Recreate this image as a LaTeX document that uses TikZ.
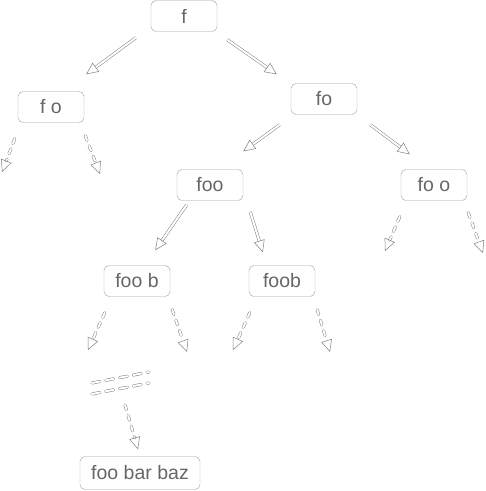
\documentclass[tikz,border=0pt]{standalone}
\usepackage{fontspec}
\setmainfont{Liberation Sans}
\usetikzlibrary{arrows.meta}
\begin{document}
\begin{tikzpicture}[x=1pt,y=-1pt,
  box/.style={draw=gray!75, rounded corners=5pt, minimum width=66pt, minimum height=31pt, inner sep=0pt, font=\fontsize{19.5}{19.5}\selectfont, text=gray!80!black},
  arr/.style={draw=gray, double=white, double distance=2pt, line width=0.5pt, -{Triangle[open,length=12pt,width=11pt]}},
  darr/.style={arr, line cap=round, dash pattern=on 5pt off 6pt},
  dline/.style={draw=gray, double=white, double distance=2pt, line width=0.5pt, line cap=round, dash pattern=on 8pt off 6pt},
]
\useasboundingbox (0,0) rectangle (486,491);
\node[box] (f) at (184,16) {f};
\node[box] (fo1) at (51,107) {f o};
\node[box] (fo) at (324,99) {fo};
\node[box] (foo) at (210,185) {foo};
\node[box] (foo2) at (434,185) {fo o};
\node[box] (foob1) at (137,281) {foo b};
\node[box] (foob2) at (282,281) {foob};
\node[box, minimum width=120pt, minimum height=33pt] (fbb) at (140,473) {foo bar baz};

% solid connectors
\draw[arr] ([xshift=-15pt,yshift=-6pt]f.south west) -- ([xshift=2pt,yshift=17pt]fo1.north east);
\draw[arr] ([xshift=10pt,yshift=-8pt]f.south east) -- ([xshift=-14pt,yshift=9pt]fo.north west);
\draw[arr] ([xshift=-11pt,yshift=-10pt]fo.south west) -- ([yshift=18pt]foo.north east);
\draw[arr] ([xshift=13pt,yshift=-10pt]fo.south east) -- ([xshift=9pt,yshift=15pt]foo2.north west);
\draw[arr] ([xshift=10pt,yshift=-4pt]foo.south west) -- ([xshift=-15pt,yshift=15pt]foob1.north east);
\draw[arr] ([xshift=7pt,yshift=-11pt]foo.south east) -- ([xshift=14pt,yshift=13pt]foob2.north west);

% free ends
\coordinate (a1) at (2,172);
\coordinate (a2) at (100,174);
\coordinate (b1) at (385,251);
\coordinate (b2) at (483,253);
\coordinate (c1) at (88,350);
\coordinate (c2) at (187,352);
\coordinate (d1) at (233,350);
\coordinate (d2) at (330,352);

\draw[darr] ([xshift=-3pt,yshift=-16pt]fo1.south west) -- (a1);
\draw[darr] ([xshift=1pt,yshift=-13pt]fo1.south east) -- (a2);
\draw[darr] ([xshift=-1pt,yshift=-16pt]foo2.south west) -- (b1);
\draw[darr] ([xshift=1pt,yshift=-12pt]foo2.south east) -- (b2);
\draw[darr] ([xshift=1pt,yshift=-16pt]foob1.south west) -- (c1);
\draw[darr] ([xshift=2pt,yshift=-13pt]foob1.south east) -- (c2);
\draw[darr] ([xshift=1pt,yshift=-16pt]foob2.south west) -- (d1);
\draw[darr] ([xshift=2pt,yshift=-13pt]foob2.south east) -- (d2);

% elided levels
\coordinate (e1a) at (92,383);
\coordinate (e1b) at (149,372);
\coordinate (e2a) at (92,394);
\coordinate (e2b) at (149,383);
\coordinate (e3) at (125,405);
\draw[dline] (e1a) -- (e1b);
\draw[dline] (e2a) -- (e2b);
\draw[darr] (e3) -- ([xshift=-2pt,yshift=7pt]fbb.north);
\end{tikzpicture}
\end{document}
